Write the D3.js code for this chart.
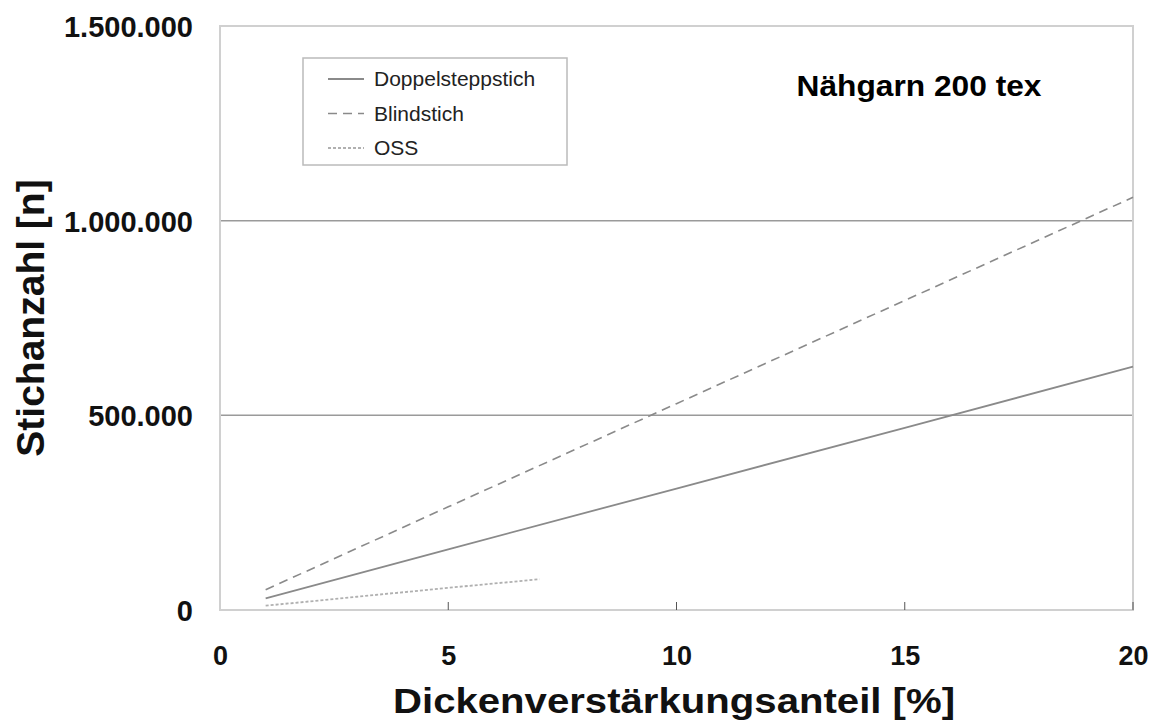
<!DOCTYPE html>
<html><head><meta charset="utf-8">
<script src="https://cdn.jsdelivr.net/npm/d3@7"></script>
<style>body{margin:0;background:#fff;} svg{display:block;font-family:"Liberation Sans",Arial,sans-serif;}</style>
</head><body>
<svg id="c" width="1154" height="722"></svg>
<script>
const xTicks = [0, 5, 10, 15, 20];
const yTicks = [0, 500000, 1000000, 1500000];
const yTickLabels = ["0", "500.000", "1.000.000", "1.500.000"];
const seriesNames = ["Doppelsteppstich", "Blindstich", "OSS"];
const doppelX = [1, 5, 10, 15, 20];
const doppelY = [30000, 156000, 312000, 468000, 625000];
const blindX = [1, 5, 10, 15, 20];
const blindY = [52000, 265000, 530000, 795000, 1060000];
const ossX = [1, 3, 5, 7];
const ossY = [11000, 34000, 57000, 79000];

const svg = d3.select("#c");
const L = 220, R = 1133, T = 26, B = 610;
const x = d3.scaleLinear().domain([0, 20]).range([L, R]);
const y = d3.scaleLinear().domain([0, 1500000]).range([B, T]);

// gridlines
svg.append("g").selectAll("line").data([500000, 1000000]).join("line")
  .attr("x1", L).attr("x2", R).attr("y1", d => y(d)).attr("y2", d => y(d))
  .attr("stroke", "#9a9a9a").attr("stroke-width", 1.5);

// frame
svg.append("rect").attr("x", L).attr("y", T).attr("width", R - L).attr("height", B - T)
  .attr("fill", "none").attr("stroke", "#d0d0d0").attr("stroke-width", 2);

// x axis
const xAxis = d3.axisBottom(x).tickValues(xTicks).tickSize(0).tickPadding(36).tickFormat(d3.format("d"));
const gx = svg.append("g").attr("transform", `translate(0,${B})`).call(xAxis);
gx.select(".domain").remove();
gx.selectAll("text").attr("font-size", 27).attr("font-weight", "bold").attr("fill", "#111")
  .attr("font-family", "Liberation Sans, Arial, sans-serif");
svg.append("g").selectAll("line").data(xTicks.filter(d => d > 0)).join("line")
  .attr("x1", d => x(d)).attr("x2", d => x(d)).attr("y1", B).attr("y2", B - 8)
  .attr("stroke", "#555").attr("stroke-width", 1);

// y axis
const yAxis = d3.axisLeft(y).tickValues(yTicks).tickSize(0).tickPadding(27)
  .tickFormat((d, i) => yTickLabels[i]);
const gy = svg.append("g").attr("transform", `translate(${L},0)`).call(yAxis);
gy.select(".domain").remove();
gy.selectAll("text").attr("font-size", 29).attr("font-weight", "bold").attr("fill", "#111")
  .attr("font-family", "Liberation Sans, Arial, sans-serif").attr("dy", "0.36em");

// lines
const line = d3.line().x(d => x(d[0])).y(d => y(d[1]));
const mk = (xs, ys) => xs.map((v, i) => [v, ys[i]]);
const styles = [
  {data: mk(doppelX, doppelY), stroke: "#8a8a8a", dash: null, w: 1.8},
  {data: mk(blindX, blindY), stroke: "#8a8a8a", dash: "9,6", w: 1.6},
  {data: mk(ossX, ossY), stroke: "#b0b0b0", dash: "3,2", w: 1.8}
];
styles.forEach(s => {
  svg.append("path").datum(s.data).attr("d", line).attr("fill", "none")
    .attr("stroke", s.stroke).attr("stroke-width", s.w)
    .attr("stroke-dasharray", s.dash);
});

// legend
const lg = svg.append("g");
lg.append("rect").attr("x", 303).attr("y", 58).attr("width", 264).attr("height", 107)
  .attr("fill", "#fff").attr("stroke", "#bbb").attr("stroke-width", 1.5);
seriesNames.forEach((n, i) => {
  const yy = 79 + i * 34.5;
  lg.append("line").attr("x1", 328).attr("x2", 364).attr("y1", yy).attr("y2", yy)
    .attr("stroke", styles[i].stroke).attr("stroke-width", styles[i].w)
    .attr("stroke-dasharray", styles[i].dash);
  lg.append("text").attr("x", 374).attr("y", yy + 7).text(n)
    .attr("font-size", 21).attr("fill", "#222");
});

// annotation
svg.append("text").attr("x", 919).attr("y", 96).attr("text-anchor", "middle")
  .attr("font-size", 30).attr("font-weight", "bold").attr("fill", "#000")
  .attr("textLength", 245).attr("lengthAdjust", "spacingAndGlyphs").text("Nähgarn 200 tex");

// axis titles
svg.append("text").attr("x", 674).attr("y", 713).attr("text-anchor", "middle")
  .attr("font-size", 35).attr("font-weight", "bold").attr("fill", "#111")
  .attr("textLength", 562).attr("lengthAdjust", "spacingAndGlyphs")
  .text("Dickenverstärkungsanteil [%]");
svg.append("text").attr("transform", "translate(44,318) rotate(-90)").attr("text-anchor", "middle")
  .attr("font-size", 39).attr("font-weight", "bold").attr("fill", "#111")
  .text("Stichanzahl [n]");
</script>
</body></html>
